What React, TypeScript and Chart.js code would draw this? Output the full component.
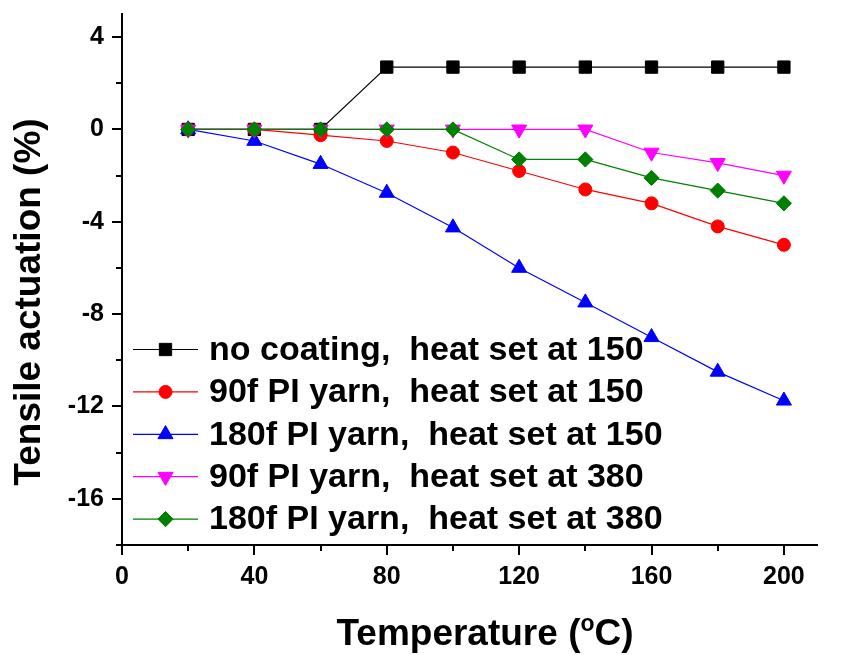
import React, { useEffect, useRef } from 'react';
import { Chart, registerables } from 'chart.js';
import { drawPoint } from 'chart.js/helpers';

Chart.register(...registerables);

// ---- data ----
const temperatures = [20, 40, 60, 80, 100, 120, 140, 160, 180, 200];
const noCoating150 = [0, 0, 0, 2.7, 2.7, 2.7, 2.7, 2.7, 2.7, 2.7];
const pi90f150 = [0, 0, -0.25, -0.5, -1.0, -1.8, -2.6, -3.2, -4.2, -5.0];
const pi180f150 = [0, -0.5, -1.5, -2.75, -4.25, -6.0, -7.5, -9.0, -10.5, -11.75];
const pi90f380 = [0, 0, 0, 0, 0, 0, 0, -1.0, -1.45, -2.0];
const pi180f380 = [0, 0, 0, 0, 0, -1.3, -1.3, -2.1, -2.65, -3.2];

const seriesLabels = [
  'no coating,  heat set at 150',
  '90f PI yarn,  heat set at 150',
  '180f PI yarn,  heat set at 150',
  '90f PI yarn,  heat set at 380',
  '180f PI yarn,  heat set at 380',
];
const seriesValues = [noCoating150, pi90f150, pi180f150, pi90f380, pi180f380];
const seriesColors = ['#000000', '#FF0000', '#0000FF', '#FF00FF', '#008000'];
const seriesMarkers = ['rect', 'circle', 'triangle', 'triangle', 'rectRot'];
const seriesRotation = [0, 0, 0, 180, 0];
const seriesRadius = [8.7, 6.5, 8.7, 8.7, 7.6];
const seriesOrder = [4, 3, 2, 1, 0];

const xMin = 0;
const xMax = 210;
const yMin = -18;
const yMax = 5;
const xMajorStep = 40;
const xMinorStep = 20;
const yMajorStep = 4;
const yMinorStep = 2;

const xTitleMain = 'Temperature (';
const xTitleSup = 'o';
const xTitleEnd = 'C)';
const yTitle = 'Tensile actuation (%)';

const FONT = "'Liberation Sans', Arial, sans-serif";

const axisDecorPlugin = {
  id: 'axisDecor',
  afterDraw(chart: any) {
    const { ctx, chartArea } = chart;
    const xs = chart.scales.x;
    const ys = chart.scales.y;
    ctx.save();
    ctx.strokeStyle = '#000';
    ctx.lineWidth = 2;
    ctx.beginPath();
    for (let v = xMin; v <= 200 + 1e-9; v += xMinorStep) {
      const px = Math.round(xs.getPixelForValue(v));
      const len = v % xMajorStep === 0 ? 10 : 6;
      ctx.moveTo(px, chartArea.bottom);
      ctx.lineTo(px, chartArea.bottom + len);
    }
    for (let v = yMin; v <= 4 + 1e-9; v += yMinorStep) {
      const py = Math.round(ys.getPixelForValue(v));
      const len = Math.abs(v % yMajorStep) === 0 ? 10 : 6;
      ctx.moveTo(chartArea.left, py);
      ctx.lineTo(chartArea.left - len, py);
    }
    ctx.stroke();

    // x title with superscript
    ctx.fillStyle = '#000';
    ctx.textBaseline = 'alphabetic';
    ctx.textAlign = 'left';
    const big = `bold 37px ${FONT}`;
    const small = `bold 23px ${FONT}`;
    ctx.font = big;
    const w1 = ctx.measureText(xTitleMain).width;
    const w3 = ctx.measureText(xTitleEnd).width;
    ctx.font = small;
    const w2 = ctx.measureText(xTitleSup).width;
    const total = w1 + w2 + w3;
    const cx = 485;
    const x0 = cx - total / 2;
    const base = 645;
    ctx.font = big;
    ctx.fillText(xTitleMain, x0, base);
    ctx.font = small;
    ctx.fillText(xTitleSup, x0 + w1, base - 14);
    ctx.font = big;
    ctx.fillText(xTitleEnd, x0 + w1 + w2, base);

    // y title
    ctx.save();
    ctx.translate(40, 302);
    ctx.rotate(-Math.PI / 2);
    ctx.textAlign = 'center';
    ctx.font = big;
    ctx.fillText(yTitle, 0, 0);
    ctx.restore();

    // legend
    const rowY0 = 349.5;
    const rowGap = 42.4;
    chart.data.datasets.forEach((ds: any, i: number) => {
      const y = rowY0 + i * rowGap;
      ctx.strokeStyle = ds.borderColor;
      ctx.lineWidth = 1.2;
      ctx.beginPath();
      ctx.moveTo(133, y);
      ctx.lineTo(198, y);
      ctx.stroke();
      ctx.fillStyle = ds.borderColor;
      ctx.strokeStyle = ds.borderColor;
      ctx.lineWidth = 1;
      drawPoint(ctx, {
        pointStyle: ds.pointStyle,
        rotation: ds.pointRotation,
        radius: ds.pointRadius,
        borderWidth: 1,
      } as any, 165.5, y);
      ctx.fillStyle = '#000';
      ctx.font = `bold 34px ${FONT}`;
      ctx.textAlign = 'left';
      ctx.textBaseline = 'middle';
      ctx.fillText(ds.label, 209, y + 1);
    });
    ctx.restore();
  },
};

export default function App() {
  const canvasRef = useRef<HTMLCanvasElement | null>(null);

  useEffect(() => {
    const canvas = canvasRef.current;
    if (!canvas) return;
    const datasets = seriesLabels.map((label, i) => ({
      label,
      data: temperatures.map((t, j) => ({ x: t, y: seriesValues[i][j] })),
      borderColor: seriesColors[i],
      backgroundColor: seriesColors[i],
      borderWidth: 1.2,
      pointStyle: seriesMarkers[i],
      pointRotation: seriesRotation[i],
      pointRadius: seriesRadius[i],
      pointBorderWidth: 1,
      pointBackgroundColor: seriesColors[i],
      pointBorderColor: seriesColors[i],
      tension: 0,
      fill: false,
      order: seriesOrder[i],
    }));

    const chart = new Chart(canvas, {
      type: 'line',
      data: { datasets },
      options: {
        animation: false,
        responsive: false,
        devicePixelRatio: 1,
        layout: { padding: { top: 14, right: 26, left: 0, bottom: 0 } },
        plugins: {
          legend: { display: false },
          tooltip: { enabled: false },
          title: { display: false },
        },
        scales: {
          x: {
            type: 'linear',
            min: xMin,
            max: xMax,
            afterFit: (s: any) => { s.height = 110; s.paddingLeft = 0; s.paddingRight = 0; },
            grid: { display: true, drawOnChartArea: false, drawTicks: true, tickLength: 10, tickColor: 'rgba(0,0,0,0)', color: 'rgba(0,0,0,0)' },
            border: { display: true, color: '#000', width: 2 },
            ticks: {
              stepSize: xMajorStep,
              includeBounds: false,
              maxRotation: 0,
              autoSkip: false,
              padding: 7,
              color: '#000',
              font: { family: FONT, size: 25, weight: 'bold' },
            },
          },
          y: {
            type: 'linear',
            min: yMin,
            max: yMax,
            afterFit: (s: any) => { s.width = 122; s.paddingTop = 0; s.paddingBottom = 0; },
            grid: { display: true, drawOnChartArea: false, drawTicks: true, tickLength: 10, tickColor: 'rgba(0,0,0,0)', color: 'rgba(0,0,0,0)' },
            border: { display: true, color: '#000', width: 2 },
            ticks: {
              stepSize: yMajorStep,
              includeBounds: false,
              autoSkip: false,
              padding: 8,
              color: '#000',
              font: { family: FONT, size: 25, weight: 'bold' },
            },
          },
        },
      } as any,
      plugins: [axisDecorPlugin],
    });
    return () => chart.destroy();
  }, []);

  return (
    <div style={{ position: 'fixed', left: 0, top: 0, width: 843, height: 655, background: '#fff' }}>
      <canvas ref={canvasRef} width={843} height={655} style={{ display: 'block' }} />
    </div>
  );
}
